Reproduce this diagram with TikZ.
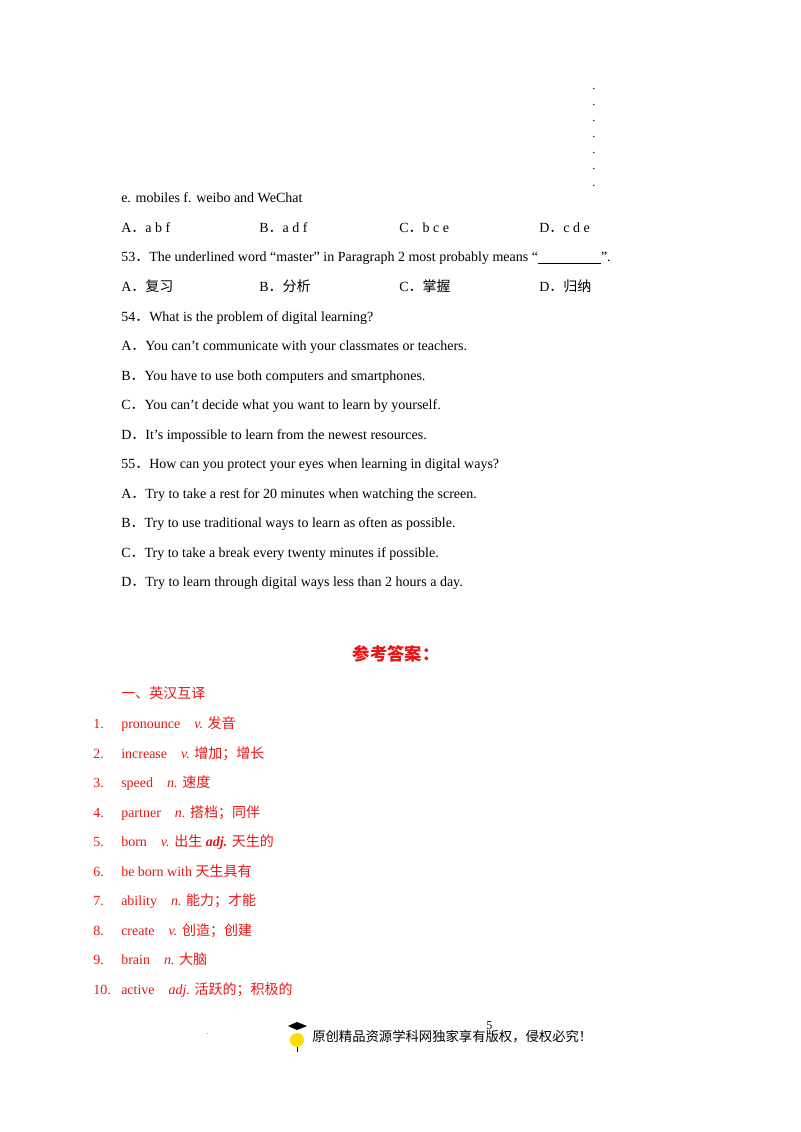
\documentclass[tikz,border=0pt]{standalone}
\usepackage{fontspec}
\setmainfont{Liberation Serif}
\newfontfamily\cjk{Noto Sans CJK SC}
\definecolor{ansred}{RGB}{235,20,20}
\begin{document}
\begin{tikzpicture}[x=0.75pt,y=-0.75pt,
  txt/.style={anchor=base west,inner sep=0pt,yshift=-3.6pt,font=\fontsize{10.5}{12}\selectfont},
  ans/.style={txt,text=ansred}]
\useasboundingbox (0,0) rectangle (800,1132);
\foreach \yy [count=\i] in {85,101,117,133,149,165,182} \node[txt,font=\small] (dot\i) at (592,\yy) {.};
\node[txt] (l0) at (121,198) {e. mobiles f. weibo and WeChat};
\node[txt] (a1) at (121,228) {A{\cjk ．}a b f};
\node[txt] (b1) at (259,228) {B{\cjk ．}a d f};
\node[txt] (c1) at (399,228) {C{\cjk ．}b c e};
\node[txt] (d1) at (539,228) {D{\cjk ．}c d e};
\node[txt] (q53) at (121,257) {53{\cjk ．}The underlined word “master” in Paragraph 2 most probably means “\underline{\hspace{4.5em}}”.};
\node[txt] (a2) at (121,287) {A{\cjk ．复习}};
\node[txt] (b2) at (259,287) {B{\cjk ．分析}};
\node[txt] (c2) at (399,287) {C{\cjk ．掌握}};
\node[txt] (d2) at (539,287) {D{\cjk ．归纳}};
\node[txt] (q54) at (121,317) {54{\cjk ．}What is the problem of digital learning?};
\node[txt] (a3) at (121,346) {A{\cjk ．}You can’t communicate with your classmates or teachers.};
\node[txt] (b3) at (121,376) {B{\cjk ．}You have to use both computers and smartphones.};
\node[txt] (c3) at (121,405) {C{\cjk ．}You can’t decide what you want to learn by yourself.};
\node[txt] (d3) at (121,435) {D{\cjk ．}It’s impossible to learn from the newest resources.};
\node[txt] (q55) at (121,464) {55{\cjk ．}How can you protect your eyes when learning in digital ways?};
\node[txt] (a4) at (121,494) {A{\cjk ．}Try to take a rest for 20 minutes when watching the screen.};
\node[txt] (b4) at (121,523) {B{\cjk ．}Try to use traditional ways to learn as often as possible.};
\node[txt] (c4) at (121,553) {C{\cjk ．}Try to take a break every twenty minutes if possible.};
\node[txt] (d4) at (121,582) {D{\cjk ．}Try to learn through digital ways less than 2 hours a day.};
\node[inner sep=0pt,text=ansred,font=\fontsize{13}{15}\selectfont\cjk\bfseries] (title) at (396,654) {参考答案：};
\node[ans] (sec) at (121,694) {\cjk 一、英汉互译};
\foreach \n/\yy/\t in {1/724/{pronounce\quad \textit{v.} {\cjk 发音}},
  2/754/{increase\quad \textit{v.} {\cjk 增加；增长}},
  3/783/{speed\quad \textit{n.} {\cjk 速度}},
  4/813/{partner\quad \textit{n.} {\cjk 搭档；同伴}},
  5/842/{born\quad \textit{v.} {\cjk 出生} \textit{\textbf{adj.}} {\cjk 天生的}},
  6/872/{be born with {\cjk 天生具有}},
  7/901/{ability\quad \textit{n.} {\cjk 能力；才能}},
  8/931/{create\quad \textit{v.} {\cjk 创造；创建}},
  9/960/{brain\quad \textit{n.} {\cjk 大脑}},
  10/990/{active\quad \textit{adj.} {\cjk 活跃的；积极的}}}
{
  \node[ans] (num\n) at (93,\yy) {\n.};
  \node[ans] (ent\n) at (121,\yy) {\t};
}
\node[txt,font=\tiny] (fdot) at (206,1030) {.};
\node[txt,font=\fontsize{9}{10}\selectfont] (pg) at (486,1025) {5};
\fill[yellow!80!orange] (297,1040) circle (7);
\fill[black] (288,1026) -- (297,1022) -- (307,1026) -- (297,1030) -- cycle;
\draw[black] (297,1047) -- (297,1052);
\node[txt,font=\fontsize{10}{12}\selectfont\cjk] (foot) at (312,1037) {原创精品资源学科网独家享有版权，侵权必究！};
\end{tikzpicture}
\end{document}
